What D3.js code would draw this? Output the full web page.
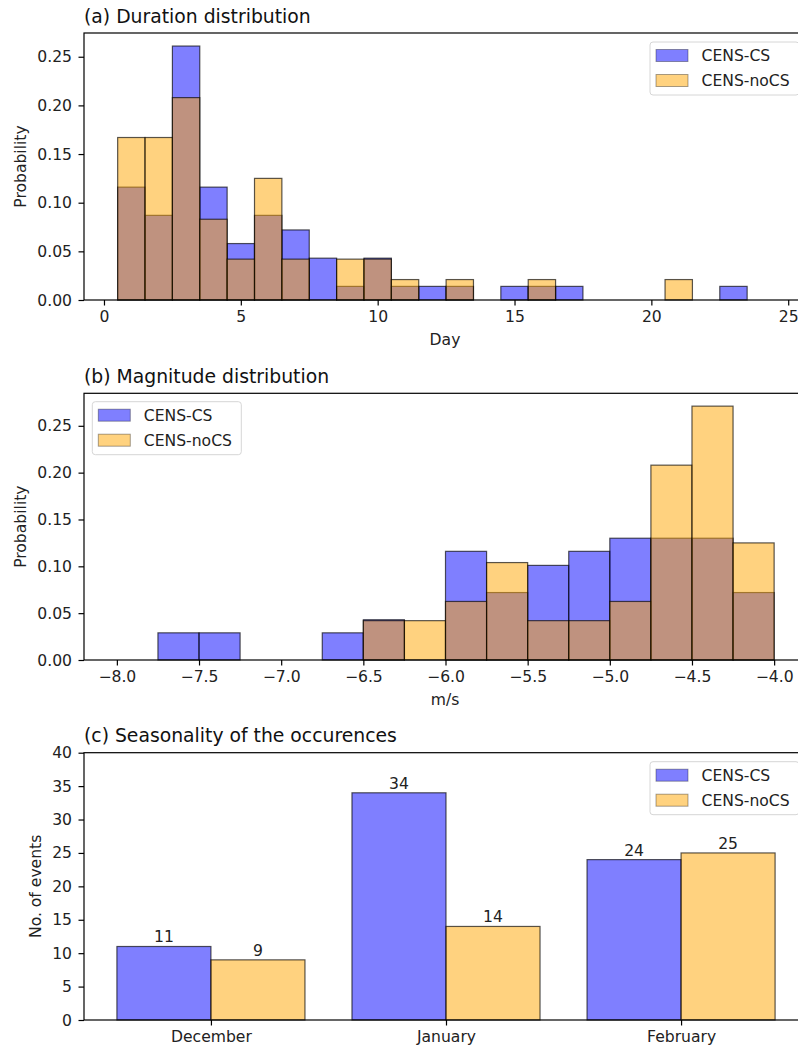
<!DOCTYPE html>
<html>
<head>
<meta charset="utf-8">
<script src="https://cdn.jsdelivr.net/npm/d3@7"></script>
<style>
  body { margin: 0; background: #fff; }
  svg { display: block; font-family: "DejaVu Sans", sans-serif; }
</style>
</head>
<body>
<div id="chart"></div>
<script>
// Data

const seriesNames = ['CENS-CS', 'CENS-noCS'];

// (a) duration histogram, bins of 1 day centred on each day
const durDays = [1, 2, 3, 4, 5, 6, 7, 8, 9, 10, 11, 12, 13, 14, 15, 16, 17, 18, 19, 20, 21, 22, 23];
const durCS = [0.116, 0.087, 0.261, 0.116, 0.058, 0.087, 0.072, 0.043, 0.014, 0.043, 0.014, 0.014,
  0.014, 0, 0.014, 0.014, 0.014, 0, 0, 0, 0, 0, 0.014];
const durNoCS = [0.167, 0.167, 0.208, 0.083, 0.042, 0.125, 0.042, 0, 0.042, 0.042, 0.021, 0,
  0.021, 0, 0, 0.021, 0, 0, 0, 0, 0.021, 0, 0];
const durTicksX = [0, 5, 10, 15, 20, 25];

// (b) magnitude histogram, lower bin edges (width 0.25 m/s)
const magBins = [-8.0, -7.75, -7.5, -7.25, -7.0, -6.75, -6.5, -6.25, -6.0, -5.75, -5.5, -5.25,
  -5.0, -4.75, -4.5, -4.25];
const magCS = [0, 0.029, 0.029, 0, 0, 0.029, 0.043, 0, 0.116, 0.072, 0.101, 0.116, 0.130,
  0.130, 0.130, 0.072];
const magNoCS = [0, 0, 0, 0, 0, 0, 0.042, 0.042, 0.0625, 0.104, 0.042, 0.042, 0.0625,
  0.208, 0.271, 0.125];
const magTicksX = [-8.0, -7.5, -7.0, -6.5, -6.0, -5.5, -5.0, -4.5, -4.0];

const probTicks = [0, 0.05, 0.10, 0.15, 0.20, 0.25];

// (c) seasonality
const months = ['December', 'January', 'February'];
const monthCS = [11, 34, 24];
const monthNoCS = [9, 14, 25];
const countTicks = [0, 5, 10, 15, 20, 25, 30, 35, 40];

const W = 798, H = 1050;
const COLORS = { cs: '#0000ff', nocs: '#ffa500' };
const BAR_ALPHA = 0.5;
const FS = '15.6px';
const TITLE_FS = '18.8px';

const svg = d3.select('#chart').append('svg')
  .attr('width', W)
  .attr('height', H);

function drawFrame(g, x0, x1, y0, y1) {
  g.append('rect')
    .attr('x', x0).attr('y', y0)
    .attr('width', x1 - x0).attr('height', y1 - y0)
    .attr('fill', 'none')
    .attr('stroke', '#000')
    .attr('stroke-width', 1.2);
}

function styleAxis(sel) {
  sel.select('.domain').remove();
  sel.selectAll('.tick line').attr('stroke', '#000').attr('stroke-width', 1.2);
  sel.selectAll('.tick text').attr('fill', '#222').attr('font-size', FS)
    .attr('font-family', '"DejaVu Sans", sans-serif');
}

function addTitle(text, x, y) {
  svg.append('text')
    .attr('x', x).attr('y', y)
    .attr('font-size', TITLE_FS)
    .attr('fill', '#111')
    .text(text);
}

function addYLabel(text, x, yMid) {
  svg.append('text')
    .attr('transform', `translate(${x},${yMid}) rotate(-90)`)
    .attr('text-anchor', 'middle')
    .attr('font-size', FS)
    .attr('fill', '#222')
    .text(text);
}

function addXLabel(text, xMid, y) {
  svg.append('text')
    .attr('x', xMid).attr('y', y)
    .attr('text-anchor', 'middle')
    .attr('font-size', FS)
    .attr('fill', '#222')
    .text(text);
}

function addLegend(x, y) {
  const lg = svg.append('g').attr('transform', `translate(${x},${y})`);
  lg.append('rect')
    .attr('width', 149).attr('height', 53)
    .attr('rx', 3)
    .attr('fill', '#fff').attr('fill-opacity', 0.8)
    .attr('stroke', '#d6d6d6');
  seriesNames.forEach((name, i) => {
    const cy = 13.5 + i * 25;
    lg.append('rect')
      .attr('x', 6).attr('y', cy - 6)
      .attr('width', 32).attr('height', 12)
      .attr('fill', i === 0 ? COLORS.cs : COLORS.nocs)
      .attr('fill-opacity', BAR_ALPHA)
      .attr('stroke', '#000').attr('stroke-opacity', 0.35);
    lg.append('text')
      .attr('x', 51.5).attr('y', cy + 5.5)
      .attr('font-size', FS)
      .attr('fill', '#222')
      .text(name);
  });
}

function barRects(g, rows, layer, xs, B) {
  g.append('g').selectAll('rect')
    .data(rows)
    .join('rect')
    .attr('x', e => xs(e)[0])
    .attr('width', e => xs(e)[1] - xs(e)[0])
    .attr('y', e => layer.y(e.v))
    .attr('height', e => B - layer.y(e.v))
    .attr('fill', layer.color)
    .attr('fill-opacity', BAR_ALPHA)
    .attr('stroke', '#000')
    .attr('stroke-opacity', 0.65)
    .attr('stroke-width', 1.2);
}

// ---------------- (a) Duration distribution ----------------
function drawDuration() {
  const L = 84, R = 806, T = 33, B = 300;
  const x = d3.scaleLinear().domain([-0.73, 25.65]).range([L, R]);
  const y = d3.scaleLinear().domain([0, 0.2744]).range([B, T]);
  const g = svg.append('g');

  [{ vals: durCS, color: COLORS.cs, y }, { vals: durNoCS, color: COLORS.nocs, y }].forEach(layer => {
    const rows = durDays.map((d, i) => ({ d, v: layer.vals[i] })).filter(e => e.v > 0);
    barRects(g, rows, layer, e => [x(e.d - 0.5), x(e.d + 0.5)], B);
  });

  g.append('g').attr('transform', `translate(0,${B})`)
    .call(d3.axisBottom(x).tickValues(durTicksX).tickFormat(d3.format('d')).tickSize(5.5).tickPadding(5.5))
    .call(styleAxis);
  g.append('g').attr('transform', `translate(${L},0)`)
    .call(d3.axisLeft(y).tickValues(probTicks).tickFormat(d3.format('.2f')).tickSize(5.5).tickPadding(6.5))
    .call(styleAxis);
  drawFrame(g, L, R, T, B);

  addTitle('(a) Duration distribution', L, 23);
  addYLabel('Probability', 25.5, (T + B) / 2);
  addXLabel('Day', (L + R) / 2, 345);
  addLegend(650, 42);
}

// ---------------- (b) Magnitude distribution ----------------
function drawMagnitude() {
  const L = 84, R = 807, T = 393.3, B = 660;
  const x = d3.scaleLinear().domain([-8.2, -3.8]).range([L, R]);
  const y = d3.scaleLinear().domain([0, 0.2847]).range([B, T]);
  const g = svg.append('g');
  const bw = 0.25;

  [{ vals: magCS, color: COLORS.cs, y }, { vals: magNoCS, color: COLORS.nocs, y }].forEach(layer => {
    const rows = magBins.map((b, i) => ({ b, v: layer.vals[i] })).filter(e => e.v > 0);
    barRects(g, rows, layer, e => [x(e.b), x(e.b + bw)], B);
  });

  g.append('g').attr('transform', `translate(0,${B})`)
    .call(d3.axisBottom(x).tickValues(magTicksX).tickFormat(d3.format('.1f')).tickSize(5.5).tickPadding(5.5))
    .call(styleAxis);
  g.append('g').attr('transform', `translate(${L},0)`)
    .call(d3.axisLeft(y).tickValues(probTicks).tickFormat(d3.format('.2f')).tickSize(5.5).tickPadding(6.5))
    .call(styleAxis);
  drawFrame(g, L, R, T, B);

  addTitle('(b) Magnitude distribution', L, 382.5);
  addYLabel('Probability', 25.5, (T + B) / 2);
  addXLabel('m/s', 445, 705);
  addLegend(92.3, 401.7);
}

// ---------------- (c) Seasonality ----------------
function drawSeasonality() {
  const L = 84, R = 808, T = 752.7, B = 1020;
  const x = d3.scaleLinear().domain([-0.54, 2.54]).range([L, R]);
  const y = d3.scaleLinear().domain([0, 40]).range([B, T]);
  const g = svg.append('g');
  const bw = 0.4;

  [
    { vals: monthCS, color: COLORS.cs, off: -bw, y },
    { vals: monthNoCS, color: COLORS.nocs, off: 0, y },
  ].forEach(layer => {
    const rows = months.map((m, i) => ({ i, v: layer.vals[i] }));
    barRects(g, rows, layer, e => [x(e.i + layer.off), x(e.i + layer.off + bw)], B);
    g.append('g').selectAll('text')
      .data(rows)
      .join('text')
      .attr('x', e => x(e.i + layer.off + bw / 2))
      .attr('y', e => y(e.v) - 4)
      .attr('text-anchor', 'middle')
      .attr('font-size', FS)
      .attr('fill', '#222')
      .text(e => e.v);
  });

  g.append('g').attr('transform', `translate(0,${B})`)
    .call(d3.axisBottom(x).tickValues([0, 1, 2]).tickFormat(i => months[i]).tickSize(5.5).tickPadding(5.5))
    .call(styleAxis);
  g.append('g').attr('transform', `translate(${L},0)`)
    .call(d3.axisLeft(y).tickValues(countTicks).tickFormat(d3.format('d')).tickSize(5.5).tickPadding(6.5))
    .call(styleAxis);
  drawFrame(g, L, R, T, B);

  addTitle('(c) Seasonality of the occurences', L, 742);
  addYLabel('No. of events', 40.5, (T + B) / 2);
  addLegend(650, 761.7);
}

drawDuration();
drawMagnitude();
drawSeasonality();
</script>
</body>
</html>
